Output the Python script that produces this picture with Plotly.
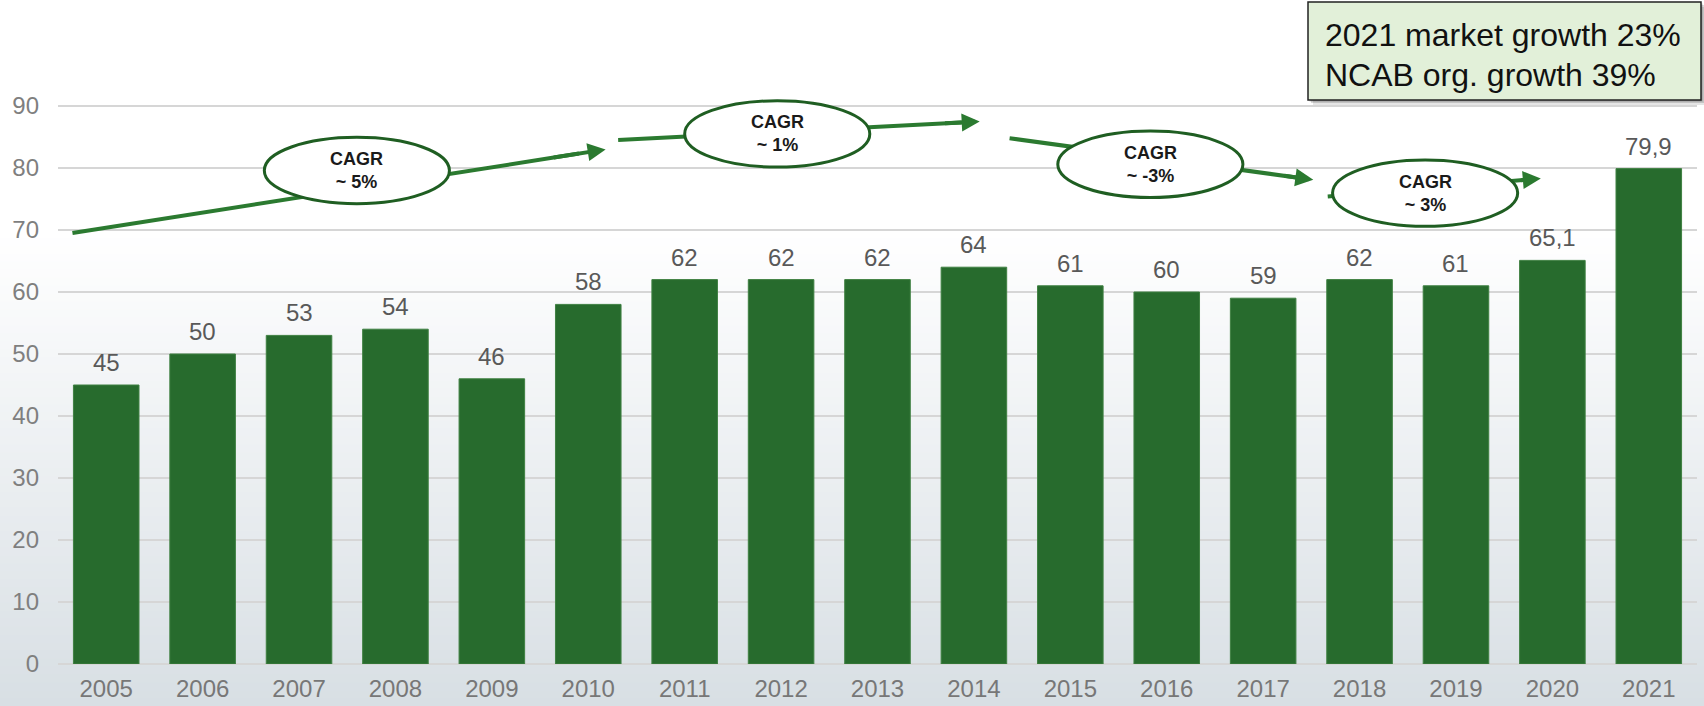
import plotly.graph_objects as go

# Market size per year
years = list(range(2005, 2022))
values = [45, 50, 53, 54, 46, 58, 62, 62, 62, 64, 61, 60, 59, 62, 61, 65.1, 79.9]
value_labels = [f"{v:g}".replace(".", ",") for v in values]

y_ticks = [0, 10, 20, 30, 40, 50, 60, 70, 80, 90]

# CAGR call-outs: label, arrow tail, arrow tip, ellipse centre
cagr_labels = ["~ 5%", "~ 1%", "~ -3%", "~ 3%"]
arrow_tails = [(2004.65, 69.5), (2010.31, 84.5), (2014.37, 84.8), (2017.67, 75.4)]
arrow_tips = [(2010.18, 83.0), (2014.06, 87.5), (2017.52, 78.1), (2019.88, 78.3)]
ellipse_centres = [(2007.60, 79.6), (2011.96, 85.5), (2015.83, 80.6), (2018.68, 75.95)]

box_lines = ["2021 market growth 23%", "NCAB org. growth 39%"]

W, H = 1704, 706
M_L, M_R, M_T, M_B = 58, 7, 44, 42
PW, PH = W - M_L - M_R, H - M_T - M_B


def px_x(px):
    return (px - M_L) / PW


def px_y(py):
    return (H - M_B - py) / PH


BAR = "#276b2d"
ARROW = "#2b7a30"
RING = "#1f5e22"
FONT = "Liberation Sans, Arial"

fig = go.Figure()
fig.add_trace(go.Bar(
    x=years, y=values, width=0.68,
    marker=dict(color=BAR, line=dict(width=1, color="#3f8042")),
    hoverinfo="skip",
))

shapes = []
# soft vertical background gradient
n = 60
top_px, bot_px = 230, H
c0, c1 = (255, 255, 255), (216, 223, 228)
for i in range(n):
    t = i / (n - 1)
    col = tuple(round(c0[k] + (c1[k] - c0[k]) * t) for k in range(3))
    y0 = top_px + (bot_px - top_px) * i / n
    y1 = top_px + (bot_px - top_px) * (i + 1) / n + 1
    shapes.append(dict(type="rect", xref="paper", yref="paper", layer="below",
                       x0=px_x(0), x1=px_x(W), y0=px_y(y1), y1=px_y(y0),
                       line=dict(width=0), fillcolor="rgb(%d,%d,%d)" % col))

annotations = []
# value labels above each bar
for yr, v, lab in zip(years, values, value_labels):
    annotations.append(dict(x=yr, y=v, xref="x", yref="y", text=lab, showarrow=False,
                            yanchor="bottom", yshift=7,
                            font=dict(size=24, color="#595959", family=FONT)))

for (tx, ty), (hx, hy), (cx, cy), lab in zip(arrow_tails, arrow_tips, ellipse_centres, cagr_labels):
    # head segment starts at f along the arrow; shaft overlaps it slightly
    f, g = 0.90, 0.95
    mx, my = tx + (hx - tx) * f, ty + (hy - ty) * f
    ex, ey = tx + (hx - tx) * g, ty + (hy - ty) * g
    shapes.append(dict(type="line", xref="x", yref="y", layer="above",
                       x0=tx, y0=ty, x1=ex, y1=ey,
                       line=dict(color=ARROW, width=4)))
    shapes.append(dict(type="circle", xref="x", yref="y", layer="above",
                       x0=cx - 0.96, x1=cx + 0.96, y0=cy - 5.35, y1=cy + 5.35,
                       fillcolor="white", line=dict(color=RING, width=3)))
    annotations.append(dict(x=hx, y=hy, ax=mx, ay=my, xref="x", yref="y",
                            axref="x", ayref="y", text="", showarrow=True,
                            arrowhead=2, arrowsize=0.9, arrowwidth=4,
                            arrowcolor=ARROW, standoff=0, startstandoff=0))
    annotations.append(dict(x=cx, y=cy, xref="x", yref="y", showarrow=False,
                            text="<b>CAGR</b><br><b>" + lab + "</b>",
                            font=dict(size=18, color="#1a1a1a", family=FONT),
                            align="center"))

# info box in the top right corner, with a soft drop shadow
bx0, bx1, by0, by1 = 1308, 1701, 2, 100
for k, op in [(5, 0.10), (3, 0.15), (1.5, 0.2)]:
    shapes.append(dict(type="rect", xref="paper", yref="paper", layer="above",
                       x0=px_x(bx0 + k), x1=px_x(bx1 + k), y0=px_y(by1 + k), y1=px_y(by0 + k),
                       line=dict(width=0), fillcolor="rgba(0,0,0,%g)" % op))
shapes.append(dict(type="rect", xref="paper", yref="paper", layer="above",
                   x0=px_x(bx0), x1=px_x(bx1), y0=px_y(by1), y1=px_y(by0),
                   fillcolor="#e2f0d9", line=dict(color="#222222", width=1.5)))
for line_txt, cy in zip(box_lines, [35, 75]):
    annotations.append(dict(x=px_x(1323), y=px_y(cy), xref="paper", yref="paper",
                            xanchor="left", yanchor="middle", showarrow=False,
                            text=line_txt,
                            font=dict(size=32, color="#111111", family=FONT)))

fig.update_layout(
    width=W, height=H,
    margin=dict(l=M_L, r=M_R, t=M_T, b=M_B, pad=0, autoexpand=False),
    paper_bgcolor="white", plot_bgcolor="rgba(0,0,0,0)",
    showlegend=False, bargap=0.32,
    shapes=shapes, annotations=annotations,
    font=dict(family=FONT),
    xaxis=dict(range=[2004.5, 2021.5], tickvals=years, ticktext=[str(y) for y in years],
               showgrid=False, zeroline=False, showline=False, ticks="", automargin=False,
               tickfont=dict(size=24, color="#777777"), ticklabelstandoff=8),
    yaxis=dict(range=[0, 100], tickvals=y_ticks, showgrid=True, gridcolor="#d6d6d6",
               gridwidth=2, zeroline=True, zerolinecolor="#d6d6d6", zerolinewidth=2,
               showline=False, ticks="", automargin=False,
               tickfont=dict(size=24, color="#7f7f7f"), ticklabelstandoff=18),
)

fig.write_html("out.html")
